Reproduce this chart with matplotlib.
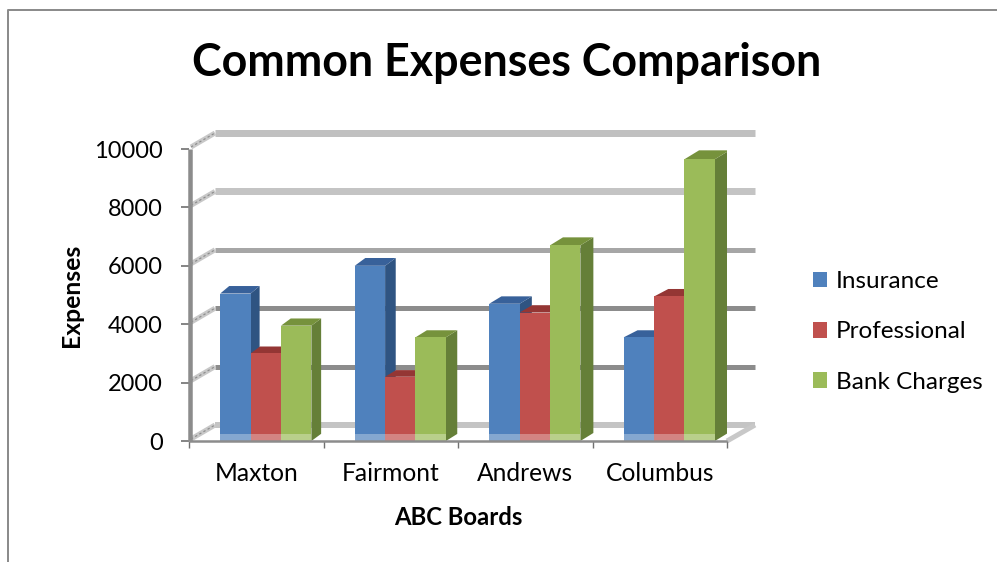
import matplotlib
matplotlib.use("Agg")
import matplotlib.pyplot as plt
from matplotlib.lines import Line2D
from matplotlib.patches import Polygon, Rectangle

boards = ["Maxton", "Fairmont", "Andrews", "Columbus"]
insurance = [5050, 6000, 4700, 3550]
professional = [3000, 2200, 4400, 4950]
bank_charges = [3950, 3550, 6700, 9650]
series_names = ["Insurance", "Professional", "Bank Charges"]
y_ticks = [0, 2000, 4000, 6000, 8000, 10000]

front_colors = ["#4f81bd", "#c0504d", "#9bbb59"]
side_colors = ["#2f5482", "#8a3836", "#657f38"]
top_colors = ["#38619a", "#943634", "#76923c"]
wall_colors = ["#c4c4c4", "#8c8c8c", "#8c8c8c", "#a6a6a6", "#c4c4c4", "#c0c0c0"]
wall_widths = [6, 5, 5, 5, 7, 7]

W, H = 997, 562
plt.rcParams["font.family"] = ["Lato", "DejaVu Sans"]

fig = plt.figure(figsize=(W / 100, H / 100), dpi=100)
ax = fig.add_axes([189 / W, 1 - 441 / H, (727 - 189) / W, (441 - 149) / H])
ax.set_xlim(0, 4)
ax.set_ylim(0, 10000)
ax.patch.set_alpha(0)
for s in ax.spines.values():
    s.set_visible(False)

# pixel sizes to data units
PX = 4 / (727 - 189)
PY = 10000 / (441 - 149)


def lw(px):
    return px * 72 / 100


# back wall and the slanted lines on the side wall
wall_dx, wall_dy = 26 * PX, 16 * PY
for v, c, w in zip(y_ticks, wall_colors, wall_widths):
    ax.plot([wall_dx, 4 + 28 * PX], [v + wall_dy] * 2, color=c, lw=lw(w),
            solid_capstyle="butt", clip_on=False, zorder=1)
    ax.plot([2 * PX, wall_dx], [v + 2 * PY, v + wall_dy], color="#c8c8c8", lw=lw(5),
            solid_capstyle="butt", clip_on=False, zorder=1)
    ax.plot([2 * PX, wall_dx], [v + 2 * PY, v + wall_dy], color="#8c8c8c", lw=lw(1.2),
            ls=(0, (2, 2)), clip_on=False, zorder=1)
ax.plot([4, 4 + 28 * PX], [0, wall_dy], color="#c8c8c8", lw=lw(5),
        solid_capstyle="butt", clip_on=False, zorder=1)

# 3d looking bars, depth grows slightly to the right and with the height
bar_w = 0.226
z = 2
for i in range(len(boards)):
    values = [insurance[i], professional[i], bank_charges[i]]
    for j, v in enumerate(values):
        x0 = i + 0.232 + j * bar_w
        x1 = x0 + bar_w
        dx = (9 + 5 * (x1 - 0.45) / 3.1) * PX
        dy = (6 + 3 * v / 10000) * PY
        ax.add_patch(Polygon([(x1, 0), (x1 + dx, dy), (x1 + dx, v + dy), (x1, v)],
                             fc=side_colors[j], ec="none", zorder=z))
        ax.add_patch(Polygon([(x0, v), (x0 + dx, v + dy), (x1 + dx, v + dy), (x1, v)],
                             fc=top_colors[j], ec="none", zorder=z))
        ax.bar(x0, v, width=bar_w, align="edge", color=front_colors[j], zorder=z + 0.5)
        z += 1
    # pale strip where the bars meet the floor
    x0 = i + 0.232
    ax.add_patch(Rectangle((x0, 0), 3 * bar_w, 7 * PY, fc="white", alpha=0.3, ec="none", zorder=z))
    z += 1

# axis lines
ax.plot([0.01, 0.01], [0, 10000], color="#8c8c8c", lw=lw(4.5), solid_capstyle="butt",
        clip_on=False, zorder=50)
ax.plot([0, 4], [0, 0], color="#8c8c8c", lw=lw(2.5), solid_capstyle="butt",
        clip_on=False, zorder=50)

ax.set_xticks(range(5))
ax.set_xticklabels([])
ax.set_xticks([i + 0.5 for i in range(4)], minor=True)
ax.set_xticklabels(boards, minor=True, fontsize=17.7, color="black")
ax.set_yticks(y_ticks)
ax.set_yticklabels([str(v) for v in y_ticks], fontsize=17, color="black")
ax.tick_params(axis="x", which="major", length=5, width=1, color="#707070")
ax.tick_params(axis="x", which="minor", length=0, pad=15)
ax.tick_params(axis="y", length=6, width=1.2, color="#707070", pad=13)

ax.set_xlabel("ABC Boards", fontsize=17.2, fontweight="bold", labelpad=15)
ax.set_ylabel("Expenses", fontsize=17.8, fontweight="bold", labelpad=8)

fig.text(507 / W, 1 - 63 / H, "Common Expenses Comparison", fontsize=32.2, fontweight="bold",
         ha="center", va="center")

handles = [Rectangle((0, 0), 1, 1, fc=c, ec="none") for c in front_colors]
fig.legend(handles, series_names, loc="center left", bbox_to_anchor=(813 / W, 1 - 332 / H),
           frameon=False, fontsize=17.5, handlelength=0.58, handleheight=0.6,
           handletextpad=0.35, labelspacing=1.2, borderpad=0, borderaxespad=0)

# outer frame of the chart, cut off at the right and bottom
fig.add_artist(Line2D([8 / W, 8 / W, 1], [0, 1 - 10 / H, 1 - 10 / H], color="#8c8c8c", lw=lw(2)))

fig.savefig("out.png", dpi=100)
